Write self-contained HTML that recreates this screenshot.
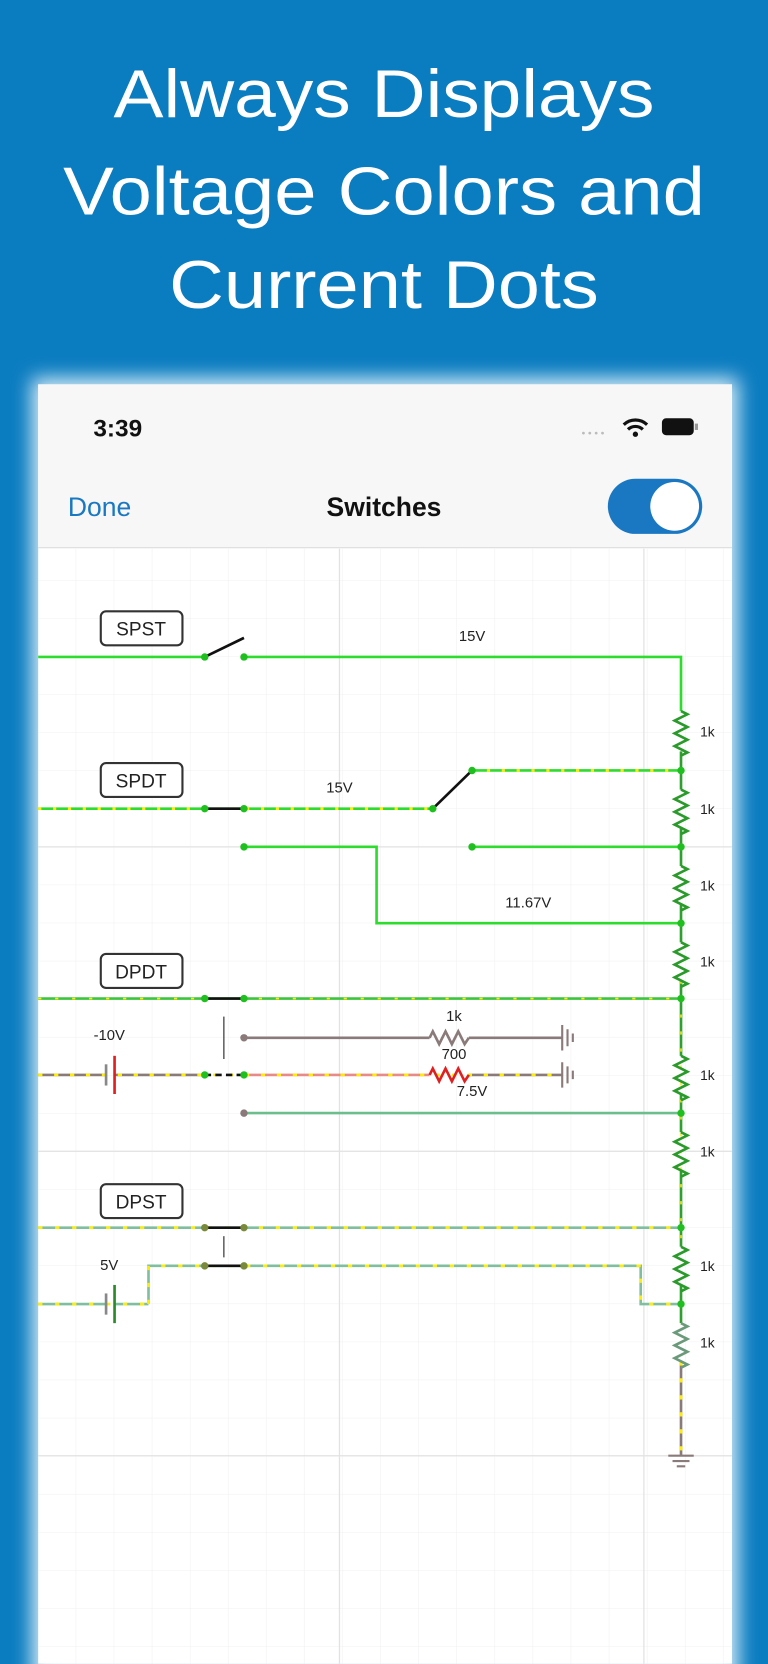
<!DOCTYPE html>
<html><head><meta charset="utf-8"><style>
html,body{margin:0;padding:0;background:#0a7cc0;}
svg{display:block}
</style></head><body>
<svg width="768" height="1664" viewBox="0 0 724 1568" xmlns="http://www.w3.org/2000/svg">
<defs>
<filter id="glow" x="-10%" y="-10%" width="120%" height="120%"><feGaussianBlur stdDeviation="9"/></filter>
<pattern id="minor" width="35.9" height="35.9" patternUnits="userSpaceOnUse" x="0" y="511">
<path d="M35.9 0V35.9M0 35.9H35.9" stroke="#f0f0f0" stroke-width="1" fill="none"/></pattern>
</defs>
<rect width="724" height="1568" fill="#0a7cc0"/>
<g fill="#fff" font-family="Liberation Sans, sans-serif" font-size="64" font-weight="300" text-anchor="middle">
<text x="362" y="110" textLength="510" lengthAdjust="spacingAndGlyphs">Always Displays</text>
<text x="362" y="202" textLength="605" lengthAdjust="spacingAndGlyphs">Voltage Colors and</text>
<text x="362" y="290" textLength="405" lengthAdjust="spacingAndGlyphs">Current Dots</text>
</g>
<rect x="30" y="356" width="666" height="1230" fill="#d8ecf8" filter="url(#glow)"/>
<rect x="36" y="362" width="654" height="1206" fill="#fff"/>
<rect x="36" y="362" width="654" height="154" fill="#f7f7f7"/>
<line x1="36" y1="516" x2="690" y2="516" stroke="#dcdcdc"/>
<rect x="36" y="517" width="654" height="1051" fill="url(#minor)"/>
<g stroke="#e2e2e2" stroke-width="1.2">
<line x1="36" y1="798" x2="690" y2="798"/><line x1="36" y1="1085" x2="690" y2="1085"/><line x1="36" y1="1372" x2="690" y2="1372"/>
<line x1="320" y1="517" x2="320" y2="1568"/><line x1="607" y1="517" x2="607" y2="1568"/>
</g>
<g font-family="Liberation Sans, sans-serif">
<text x="88" y="411" font-size="23" font-weight="bold" fill="#111">3:39</text>
<text x="64" y="486" font-size="25" fill="#1a78c2">Done</text>
<text x="362" y="486" font-size="25" font-weight="bold" fill="#111" text-anchor="middle">Switches</text>
</g>
<g fill="#bbb"><circle cx="550" cy="408" r="1.3"/><circle cx="556" cy="408" r="1.3"/><circle cx="562" cy="408" r="1.3"/><circle cx="568" cy="408" r="1.3"/></g>
<path d="M588 400 A16 16 0 0 1 610 400" stroke="#111" stroke-width="3" fill="none"/>
<path d="M592 404.5 A10 10 0 0 1 606 404.5" stroke="#111" stroke-width="3" fill="none"/>
<circle cx="599" cy="409" r="2.5" fill="#111"/>
<rect x="624" y="394" width="30" height="16" rx="4" fill="#111"/><rect x="655" y="399" width="3" height="6" fill="#999"/>
<rect x="573" y="451" width="89" height="52" rx="26" fill="#1a78c2"/>
<circle cx="636" cy="477" r="23" fill="#fff"/>

<g font-family="Liberation Sans, sans-serif" font-size="18" fill="#222">
<rect x="95" y="576" width="77" height="32" rx="5" fill="#fff" stroke="#333" stroke-width="2"/><text x="133" y="599" text-anchor="middle">SPST</text>
<rect x="95" y="719" width="77" height="32" rx="5" fill="#fff" stroke="#333" stroke-width="2"/><text x="133" y="742" text-anchor="middle">SPDT</text>
<rect x="95" y="899" width="77" height="32" rx="5" fill="#fff" stroke="#333" stroke-width="2"/><text x="133" y="922" text-anchor="middle">DPDT</text>
<rect x="95" y="1116" width="77" height="32" rx="5" fill="#fff" stroke="#333" stroke-width="2"/><text x="133" y="1139" text-anchor="middle">DPST</text>
</g>

<g fill="none" stroke-width="2.5">
<!-- SPST -->
<path d="M36 619H193M230 619H642V670" stroke="#2edc2e"/>
<!-- SPDT -->
<path d="M36 762H408" stroke="#2edc2e"/><path d="M36 762H408" stroke="#ffee00" stroke-dasharray="3 11"/>
<path d="M445 726H642" stroke="#2edc2e"/><path d="M445 726H642" stroke="#ffee00" stroke-dasharray="3 11"/>
<path d="M230 798H355V870H642M445 798H642" stroke="#2edc2e"/>
<!-- DPDT -->
<path d="M36 941H642" stroke="#3cc43c"/><path d="M36 941H642" stroke="#ffee00" stroke-dasharray="3 13" stroke-width="1.5"/>
<path d="M230 978H405M442 978H530" stroke="#8a7a7a"/>
<path d="M36 1013H100M108 1013H193" stroke="#8a7a7a"/>
<path d="M230 1013H405" stroke="#e88a8a"/><path d="M442 1013H530" stroke="#8a7a7a"/>
<path d="M36 1013H530" stroke="#ffee00" stroke-dasharray="4 11"/>
<path d="M230 1049H642" stroke="#6cbf8c"/>
<!-- DPST -->
<path d="M36 1157H642" stroke="#7fbfa0"/><path d="M36 1157H642" stroke="#ffee00" stroke-dasharray="4 12"/>
<path d="M140 1229V1193H604V1229H642M36 1229H100M108 1229H140" stroke="#7fbfa0"/>
<path d="M140 1229V1193H604V1229H642M36 1229H140" stroke="#ffee00" stroke-dasharray="4 12"/>
<!-- resistor column -->
<path d="M642 708V744M642 780V816M642 852V888M642 924V995M642 1031V1067M642 1103V1175M642 1211V1247" stroke="#2ea02e"/>
<path d="M642 924V1175" stroke="#ffee00" stroke-dasharray="3 13" stroke-width="1.5"/>
<path d="M642 1283V1372" stroke="#8a7a7a"/><path d="M642 1283V1372" stroke="#ffee00" stroke-dasharray="4 12"/>
</g>
<g fill="none" stroke="#2a9a2a" stroke-width="2.5">
<path d="M642 670l6 3-12 6 12 6-12 6 12 6-12 6 12 6-6 3"/>
<path d="M642 744l6 3-12 6 12 6-12 6 12 6-12 6 12 6-6 3"/>
<path d="M642 816l6 3-12 6 12 6-12 6 12 6-12 6 12 6-6 3"/>
<path d="M642 888l6 3-12 6 12 6-12 6 12 6-12 6 12 6-6 3"/>
<path d="M642 995l6 3-12 6 12 6-12 6 12 6-12 6 12 6-6 3"/>
<path d="M642 1067l6 3-12 6 12 6-12 6 12 6-12 6 12 6-6 3"/>
<path d="M642 1175l6 3-12 6 12 6-12 6 12 6-12 6 12 6-6 3"/>
<path d="M642 1247l6 3-12 6 12 6-12 6 12 6-12 6 12 6-6 3" stroke="#6a9a7a"/>
<path d="M405 978l3-6 6 12 6-12 6 12 6-12 6 12 4-6" stroke="#8a7a7a"/>
<path d="M405 1013l3-6 6 12 6-12 6 12 6-12 6 12 4-6" stroke="#e02020"/>
</g>
<!-- switches -->
<g stroke="#111" stroke-width="2.5">
<line x1="193" y1="619" x2="230" y2="601"/>
<line x1="408" y1="762" x2="445" y2="726"/>
<line x1="193" y1="762" x2="230" y2="762"/>
<line x1="193" y1="941" x2="230" y2="941"/>
<line x1="193" y1="1013" x2="230" y2="1013" stroke-dasharray="6 4"/>
<line x1="193" y1="1157" x2="230" y2="1157"/>
<line x1="193" y1="1193" x2="230" y2="1193"/>
</g>
<g stroke="#666" stroke-width="1.5"><line x1="211" y1="958" x2="211" y2="998"/><line x1="211" y1="1165" x2="211" y2="1185"/></g>
<!-- batteries -->
<g stroke-width="2.5"><line x1="100" y1="1003" x2="100" y2="1023" stroke="#888"/><line x1="108" y1="995" x2="108" y2="1031" stroke="#e02020"/>
<line x1="100" y1="1219" x2="100" y2="1239" stroke="#888"/><line x1="108" y1="1211" x2="108" y2="1247" stroke="#2a8a2a"/></g>
<!-- grounds -->
<g stroke="#8a7a7a" stroke-width="2"><path d="M530 966V990M535 970V986M540 974V982"/><path d="M530 1001V1025M535 1005V1021M540 1009V1017"/>
<path d="M630 1372H654M634 1377H650M638 1382H646"/></g>
<!-- dots -->
<g fill="#1fbf1f">
<circle cx="193" cy="619" r="3.5"/><circle cx="230" cy="619" r="3.5"/>
<circle cx="193" cy="762" r="3.5"/><circle cx="230" cy="762" r="3.5"/><circle cx="408" cy="762" r="3.5"/><circle cx="445" cy="726" r="3.5"/>
<circle cx="230" cy="798" r="3.5"/><circle cx="445" cy="798" r="3.5"/>
<circle cx="642" cy="726" r="3.5"/><circle cx="642" cy="798" r="3.5"/><circle cx="642" cy="870" r="3.5"/><circle cx="642" cy="941" r="3.5"/>
<circle cx="193" cy="941" r="3.5"/><circle cx="230" cy="941" r="3.5"/><circle cx="193" cy="1013" r="3.5"/><circle cx="230" cy="1013" r="3.5"/>
<circle cx="642" cy="1049" r="3.5"/><circle cx="642" cy="1157" r="3.5"/><circle cx="642" cy="1229" r="3.5"/>
</g>
<g fill="#8a7a7a"><circle cx="230" cy="978" r="3.5"/><circle cx="230" cy="1049" r="3.5"/></g>
<g fill="#7a8a3a"><circle cx="193" cy="1157" r="3.5"/><circle cx="230" cy="1157" r="3.5"/><circle cx="193" cy="1193" r="3.5"/><circle cx="230" cy="1193" r="3.5"/></g>
<!-- labels -->
<g font-family="Liberation Sans, sans-serif" font-size="14" fill="#222">
<text x="445" y="604" text-anchor="middle">15V</text>
<text x="320" y="747" text-anchor="middle">15V</text>
<text x="498" y="855" text-anchor="middle">11.67V</text>
<text x="103" y="980" text-anchor="middle">-10V</text>
<text x="103" y="1197" text-anchor="middle">5V</text>
<text x="428" y="962" text-anchor="middle">1k</text>
<text x="428" y="998" text-anchor="middle">700</text>
<text x="445" y="1033" text-anchor="middle">7.5V</text>
<g font-size="13"><text x="660" y="694">1k</text><text x="660" y="767">1k</text><text x="660" y="839">1k</text><text x="660" y="911">1k</text><text x="660" y="1018">1k</text><text x="660" y="1090">1k</text><text x="660" y="1198">1k</text><text x="660" y="1270">1k</text></g>
</g>
</svg>
</body></html>
